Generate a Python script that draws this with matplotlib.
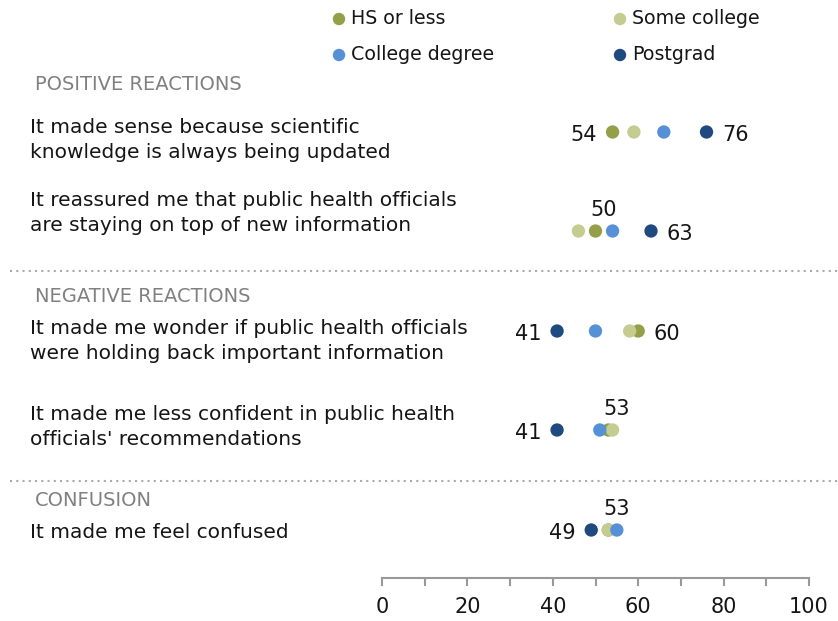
import matplotlib.pyplot as plt
import numpy as np

# Data
groups = ["HS or less", "Some college", "College degree", "Postgrad"]
colors = ["#949f48", "#c4cc8f", "#5691d8", "#1f4a7f"]
row_labels = [
    "It made sense because scientific\nknowledge is always being updated",
    "It reassured me that public health officials\nare staying on top of new information",
    "It made me wonder if public health officials\nwere holding back important information",
    "It made me less confident in public health\nofficials' recommendations",
    "It made me feel confused",
]
sections = ["POSITIVE REACTIONS", "NEGATIVE REACTIONS", "CONFUSION"]
hs_or_less = [54, 50, 60, 53, 53]
some_college = [59, 46, 58, 54, 53]
college_degree = [66, 54, 50, 51, 55]
postgrad = [76, 63, 41, 41, 49]
x_ticks = list(range(0, 101, 10))

series = [hs_or_less, some_college, college_degree, postgrad]

# Layout (pixel positions, y measured from top)
W, H = 838, 621
dot_y = [132, 231, 331, 430, 530]
label_y = [140, 213, 341, 427, 532]
section_y = [85, 296, 501]
sep_y = [271, 481]
axis_y = 578
TXT = "#151515"

fig = plt.figure(figsize=(W / 100, H / 100), dpi=100)
fig.patch.set_facecolor("white")

# overlay axes in pixel coords for text/layout
lay = fig.add_axes([0, 0, 1, 1])
lay.set_xlim(0, W)
lay.set_ylim(H, 0)
lay.set_axis_off()

ax = fig.add_axes([382 / W, 1 - axis_y / H, (809 - 382) / W, axis_y / H])
ax.set_xlim(0, 100)
ax.set_ylim(axis_y, 0)
ax.patch.set_alpha(0)
for side in ["top", "left", "right"]:
    ax.spines[side].set_visible(False)
ax.spines["bottom"].set_color("#999999")
ax.spines["bottom"].set_linewidth(1.5)
ax.set_yticks([])
ax.set_xticks(x_ticks)
ax.set_xticklabels([str(t) if t % 20 == 0 else "" for t in x_ticks])
ax.tick_params(axis="x", direction="out", length=6, width=1.5, color="#999999",
               labelsize=15, labelcolor=TXT, pad=8)

# dots
for vals, color, name in zip(series, colors, groups):
    ax.scatter(vals, dot_y, s=92, color=color, edgecolor="none", zorder=3,
               clip_on=False, label=name)

# value labels for HS or less and Postgrad
for i, y in enumerate(dot_y):
    row = [s[i] for s in series]
    for vals in (hs_or_less, postgrad):
        v = vals[i]
        if v == min(row) and row.count(v) == 1:
            ax.annotate(str(v), (v, y), xytext=(-11, -2), textcoords="offset points",
                        ha="right", va="center", fontsize=15, color=TXT)
        elif v == max(row) and row.count(v) == 1:
            ax.annotate(str(v), (v, y), xytext=(11, -2), textcoords="offset points",
                        ha="left", va="center", fontsize=15, color=TXT)
        else:
            ax.annotate(str(v), (v, y), xytext=(6, 15), textcoords="offset points",
                        ha="center", va="center", fontsize=15, color=TXT)

# row labels
for txt, y in zip(row_labels, label_y):
    lay.text(30, y, txt, ha="left", va="center", fontsize=14.5, color=TXT,
             linespacing=1.45)

# section headers
for txt, y in zip(sections, section_y):
    lay.text(35, y, txt, ha="left", va="center", fontsize=14, color="#808080")

# dotted separators
for y in sep_y:
    lay.plot([10, W], [y, y], color="#aaaaaa", linewidth=1.5, linestyle=(0, (1, 2)))

# legend
leg_pos = [(339, 19), (620, 19), (339, 55), (620, 55)]
for (lx, ly), color, name in zip(leg_pos, colors, groups):
    lay.scatter([lx], [ly], s=80, color=color, edgecolor="none")
    lay.text(lx + 12, ly, name, ha="left", va="center", fontsize=13.7, color=TXT)

fig.savefig("out.png", dpi=100)
